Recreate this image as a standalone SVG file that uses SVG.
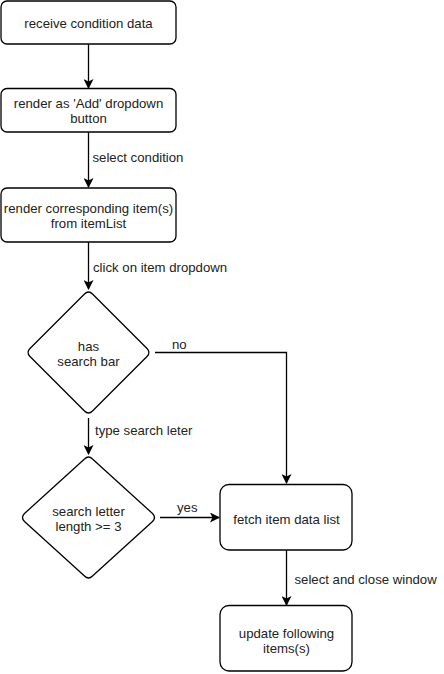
<svg xmlns="http://www.w3.org/2000/svg" width="444" height="674" viewBox="0 0 444 674">
<style>
.n{fill:#fff;stroke:#000;stroke-width:1.3}
.t{font-family:"Liberation Sans",Arial,sans-serif;font-size:13.2px;fill:#222;text-anchor:middle}
.l{font-family:"Liberation Sans",Arial,sans-serif;font-size:13.2px;fill:#222}
.c{fill:none;stroke:#000;stroke-width:1.3}
</style>
<defs>
<marker id="a" viewBox="0 0 10 10" refX="9" refY="5" markerWidth="10" markerHeight="10" markerUnits="userSpaceOnUse" orient="auto">
<path d="M0,0 L10,5 L0,10 L2.5,5 Z" fill="#000"/>
</marker>
</defs>
<rect width="444" height="674" fill="#fff"/>
<g id="connectors">
<path class="c" d="M88.5,44 V88" marker-end="url(#a)"/>
<path class="c" d="M88.5,132 V187" marker-end="url(#a)"/>
<path class="c" d="M88.5,242 V289" marker-end="url(#a)"/>
<path class="c" d="M155,352.5 H286.5 V483" marker-end="url(#a)"/>
<path class="c" d="M88.5,418 V454" marker-end="url(#a)"/>
<path class="c" d="M160,517.5 H219" marker-end="url(#a)"/>
<path class="c" d="M286.5,550 V605" marker-end="url(#a)"/>
<text class="l" x="92.5" y="161.5">select condition</text>
<text class="l" x="93" y="272">click on item dropdown</text>
<text class="l" x="172" y="348.5">no</text>
<text class="l" x="95" y="434.5">type search leter</text>
<text class="l" x="177" y="512">yes</text>
<text class="l" x="294.5" y="583.5">select and close window</text>
</g>
<g id="n1">
<rect class="n" x="1" y="1" width="175" height="43" rx="6"/>
<text class="t" x="88.5" y="27.5">receive condition data</text>
</g>
<g id="n2">
<rect class="n" x="1" y="88.5" width="175" height="43.5" rx="6"/>
<text class="t" x="88.5" y="107.5">render as 'Add' dropdown</text>
<text class="t" x="88.5" y="122.5">button</text>
</g>
<g id="n3">
<rect class="n" x="1" y="188" width="175" height="54" rx="6"/>
<text class="t" x="88.5" y="212.5">render corresponding item(s)</text>
<text class="t" x="88.5" y="227.5">from itemList</text>
</g>
<g id="n4">
<path class="n" d="M84.5,294 Q88.5,290 92.5,294 L147,348.5 Q151,352.5 147,356.5 L92.5,411 Q88.5,415 84.5,411 L30,356.5 Q26,352.5 30,348.5 Z"/>
<text class="t" x="88.5" y="350.5">has</text>
<text class="t" x="88.5" y="365.5">search bar</text>
</g>
<g id="n5">
<path class="n" d="M84.5,459 Q88.5,455 92.5,459 L152.5,513.5 Q156.5,517.5 152.5,521.5 L92.5,576 Q88.5,580 84.5,576 L24.5,521.5 Q20.5,517.5 24.5,513.5 Z"/>
<text class="t" x="88.5" y="515.5">search letter</text>
<text class="t" x="88.5" y="530.5">length &gt;= 3</text>
</g>
<g id="n6">
<rect class="n" x="220" y="484.5" width="132" height="65.5" rx="9"/>
<text class="t" x="286.5" y="523.5">fetch item data list</text>
</g>
<g id="n7">
<rect class="n" x="220" y="605.5" width="132" height="65.5" rx="9"/>
<text class="t" x="286.5" y="637.5">update following</text>
<text class="t" x="286.5" y="652.5">items(s)</text>
</g>
</svg>
